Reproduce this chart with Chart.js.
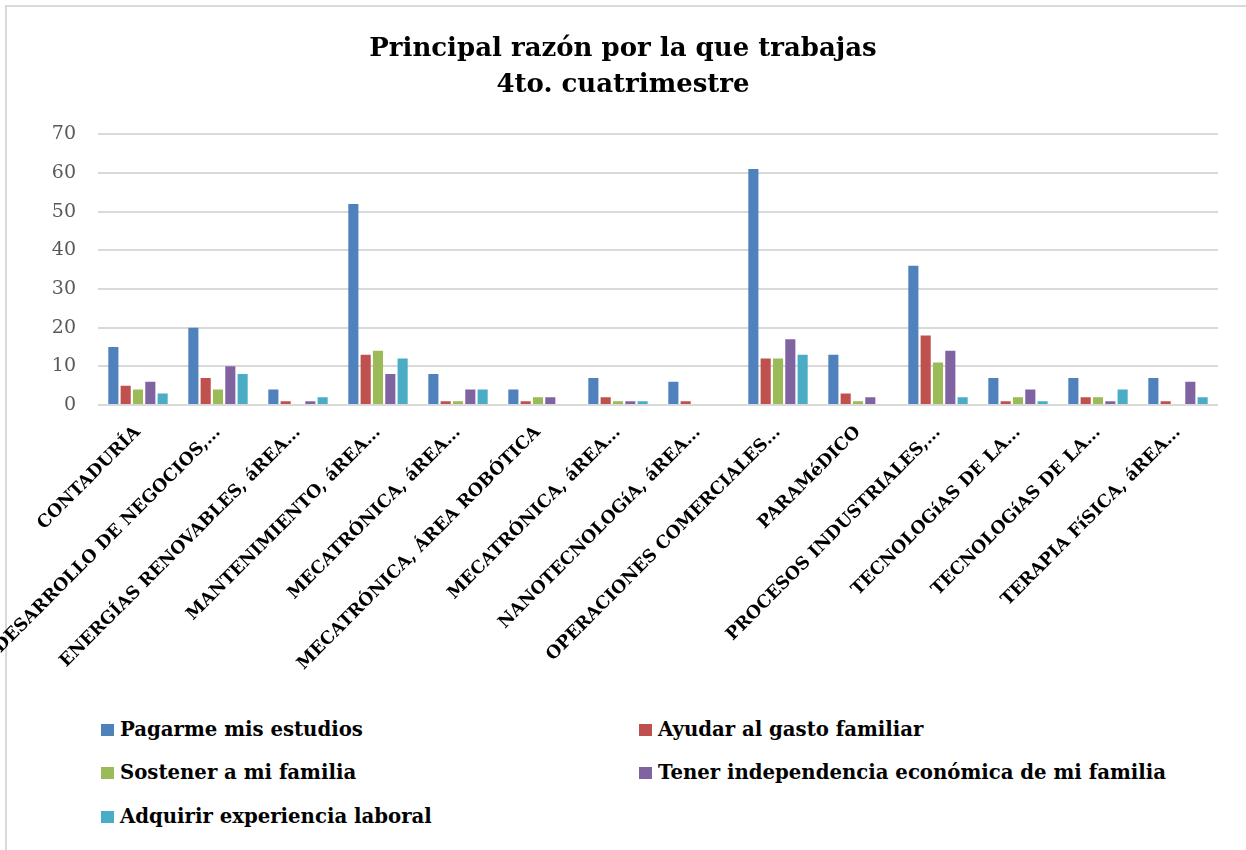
<!DOCTYPE html>
<html>
<head>
<meta charset="utf-8">
<script src="https://cdn.jsdelivr.net/npm/chart.js@4/dist/chart.umd.min.js"></script>
<style>
    body { margin: 0; background: #fff; }
    #wrap { position: relative; width: 1246px; height: 850px; overflow: hidden; }
    #frame { position: absolute; left: 5px; top: 5px; width: 1300px; height: 900px; border: 2px solid #d9d9d9; box-sizing: border-box; }
    #chart { position: absolute; left: 0; top: 0; }
    .leg { position: absolute; font: bold 19.7px "DejaVu Serif", serif; color: #000; white-space: nowrap; line-height: 24px; }
    .leg span { display: inline-block; width: 13px; height: 12px; margin-right: 6px; vertical-align: 0px; }
</style>
</head>
<body>
<div id="wrap">
    <div id="frame"></div>
    <canvas id="chart" width="1246" height="700"></canvas>
    <div id="legend"></div>
</div>
<script>
    // carreras (etiquetas tal como aparecen, recortadas)
    var carreras = [
        'CONTADURÍA',
        'DESARROLLO DE NEGOCIOS,…',
        'ENERGÍAS RENOVABLES, áREA…',
        'MANTENIMIENTO, áREA…',
        'MECATRÓNICA, áREA…',
        'MECATRÓNICA, ÁREA ROBÓTICA',
        'MECATRÓNICA, áREA…',
        'NANOTECNOLOGíA, áREA…',
        'OPERACIONES COMERCIALES…',
        'PARAMéDICO',
        'PROCESOS INDUSTRIALES,…',
        'TECNOLOGíAS DE LA…',
        'TECNOLOGíAS DE LA…',
        'TERAPIA FíSICA, áREA…'
    ]
    var razones = [
        'Pagarme mis estudios',
        'Ayudar al gasto familiar',
        'Sostener a mi familia',
        'Tener independencia económica de mi familia',
        'Adquirir experiencia laboral'
    ]
    var pagarEstudios   = [15, 20, 4, 52, 8, 4, 7, 6, 61, 13, 36, 7, 7, 7]
    var gastoFamiliar   = [5, 7, 1, 13, 1, 1, 2, 1, 12, 3, 18, 1, 2, 1]
    var sostenerFamilia = [4, 4, 0, 14, 1, 2, 1, 0, 12, 1, 11, 2, 2, 0]
    var independencia   = [6, 10, 1, 8, 4, 2, 1, 0, 17, 2, 14, 4, 1, 6]
    var experiencia     = [3, 8, 2, 12, 4, 0, 1, 0, 13, 0, 2, 1, 4, 2]
    var yTicks = [0, 10, 20, 30, 40, 50, 60, 70]

    var colores = ['#4F81BD', '#C0504D', '#9BBB59', '#8064A2', '#4BACC6']
    var series = [pagarEstudios, gastoFamiliar, sostenerFamilia, independencia, experiencia]

    var datasets = series.map(function (d, i) {
        return {
            label: razones[i],
            data: d,
            backgroundColor: colores[i],
            borderWidth: 0,
            categoryPercentage: 0.77,
            barPercentage: 0.82
        }
    })

    var fuente = '"DejaVu Serif", serif'

    var ctx = document.getElementById('chart').getContext('2d')
    var chart = new Chart(ctx, {
        type: 'bar',
        data: { labels: carreras, datasets: datasets },
        options: {
            responsive: false,
            animation: false,
            layout: { padding: { left: 28, right: 28, top: 0, bottom: 0 } },
            plugins: {
                legend: { display: false },
                tooltip: { enabled: false },
                title: {
                    display: true,
                    text: ['Principal razón por la que trabajas', '4to. cuatrimestre'],
                    color: '#000',
                    font: { family: fuente, size: 26, weight: 'bold', lineHeight: 1.39 },
                    padding: { top: 31, bottom: 31 }
                }
            },
            scales: {
                x: {
                    grid: { display: false },
                    border: { display: false },
                    ticks: {
                        autoSkip: false,
                        maxRotation: 45,
                        minRotation: 45,
                        color: '#000',
                        padding: 9,
                        font: { family: fuente, size: 17.5, weight: 'bold' }
                    },
                    afterFit: function (scale) { scale.height = 700 - 405 }
                },
                y: {
                    min: 0,
                    max: 70,
                    afterBuildTicks: function (scale) {
                        scale.ticks = yTicks.map(function (v) { return { value: v } })
                    },
                    grid: { color: '#d9d9d9', lineWidth: 2, drawTicks: false },
                    border: { display: false },
                    ticks: {
                        color: '#595959',
                        padding: 22,
                        font: { family: fuente, size: 19 }
                    },
                    afterFit: function (scale) { scale.width = 70 }
                }
            }
        }
    })

    // leyenda en dos columnas
    var posLeyenda = [[101, 718], [639, 718], [101, 761], [639, 761], [101, 805]]
    var legend = document.getElementById('legend')
    razones.forEach(function (r, i) {
        var el = document.createElement('div')
        el.className = 'leg'
        el.style.left = posLeyenda[i][0] + 'px'
        el.style.top = posLeyenda[i][1] + 'px'
        el.innerHTML = '<span style="background:' + colores[i] + '"></span>' + r
        legend.appendChild(el)
    })
</script>
</body>
</html>
